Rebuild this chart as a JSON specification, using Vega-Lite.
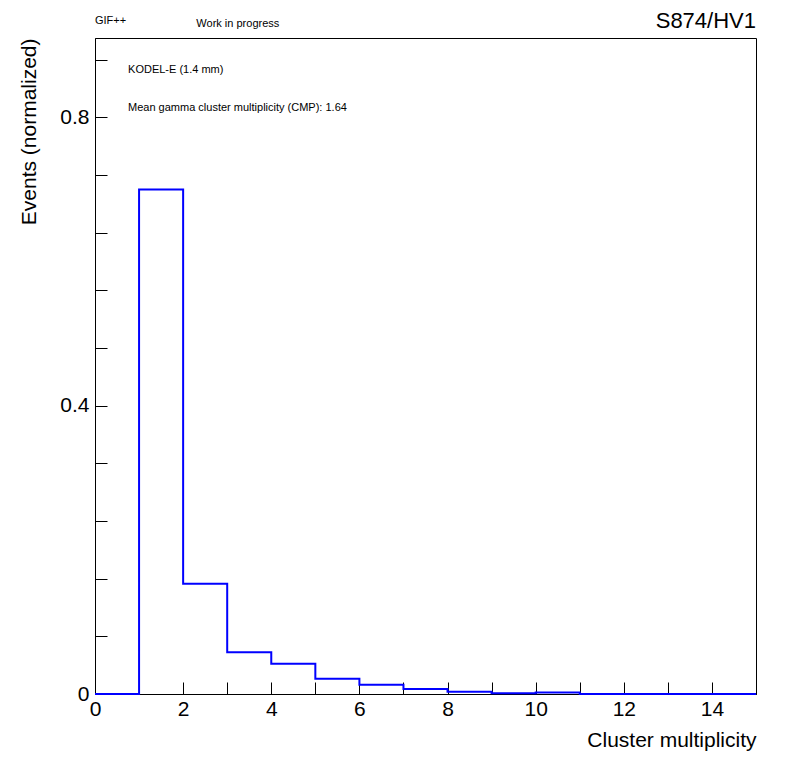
{
  "$schema": "https://vega.github.io/schema/vega-lite/v6.json",
  "width": 661,
  "height": 656,
  "autosize": "none",
  "padding": {"left": 95, "top": 38, "right": 40, "bottom": 78},
  "config": {
    "font": "Liberation Sans",
    "view": {"stroke": "black", "strokeWidth": 1},
    "axis": {"domainColor": "black", "tickColor": "black", "labelColor": "black", "titleColor": "black", "labelFont": "Liberation Sans", "titleFont": "Liberation Sans", "labelFontSize": 21, "titleFontSize": 21, "titleFontWeight": "normal", "grid": false, "labelOverlap": false, "labelFlush": false, "labelBound": false}
  },
  "data": {"values": [
    {"x": 0, "y": 0}, {"x": 1, "y": 0.70}, {"x": 2, "y": 0.153}, {"x": 3, "y": 0.058},
    {"x": 4, "y": 0.042}, {"x": 5, "y": 0.021}, {"x": 6, "y": 0.013}, {"x": 7, "y": 0.007},
    {"x": 8, "y": 0.003}, {"x": 9, "y": 0.001}, {"x": 10, "y": 0.002}, {"x": 11, "y": 0},
    {"x": 15, "y": 0}
  ]},
  "layer": [
    {
      "mark": {"type": "line", "interpolate": "step-after", "color": "#0000ff", "strokeWidth": 2},
      "encoding": {
        "x": {"field": "x", "type": "quantitative", "scale": {"domain": [0, 15], "nice": false},
          "axis": {"values": [0,0.5,1,1.5,2,2.5,3,3.5,4,4.5,5,5.5,6,6.5,7,7.5,8,8.5,9,9.5,10,10.5,11,11.5,12,12.5,13,13.5,14,14.5,15],
            "labelExpr": "datum.value % 2 == 0 && datum.value < 15 ? datum.label : ''",
            "tickSize": -12, "labelPadding": 16,
            "title": "Cluster multiplicity", "titleAnchor": "end", "titlePadding": 10}},
        "y": {"field": "y", "type": "quantitative", "scale": {"domain": [0, 0.91], "nice": false},
          "axis": {"values": [0,0.02,0.04,0.06,0.08,0.1,0.12,0.14,0.16,0.18,0.2,0.22,0.24,0.26,0.28,0.3,0.32,0.34,0.36,0.38,0.4,0.42,0.44,0.46,0.48,0.5,0.52,0.54,0.56,0.58,0.6,0.62,0.64,0.66,0.68,0.7,0.72,0.74,0.76,0.78,0.8,0.82,0.84,0.86,0.88,0.9],
            "labelExpr": "abs(datum.value*10 - round(datum.value*10)) < 0.001 ? (datum.value == 0 ? '0' : format(datum.value, '.1f')) : ''",
            "tickSize": -12, "labelPadding": 18,
            "title": "Events (normalized)", "titleAnchor": "end", "titlePadding": 20}}
      }
    },
    {
      "data": {"values": [
        {"x": 0.75, "y": 0.866, "t": "KODEL-E (1.4 mm)", "w": "bold", "s": 17, "st": "normal"},
        {"x": 0.75, "y": 0.813, "t": "Mean gamma cluster multiplicity (CMP): 1.64", "w": "normal", "s": 17, "st": "normal"},
        {"x": 0, "y": 0.933, "t": "GIF++", "w": "bold", "s": 22, "st": "normal"},
        {"x": 2.3, "y": 0.93, "t": "Work in progress", "w": "normal", "s": 18, "st": "italic"}
      ]},
      "mark": {"type": "text", "align": "left", "baseline": "middle", "clip": false, "color": "black"},
      "encoding": {
        "x": {"field": "x", "type": "quantitative"},
        "y": {"field": "y", "type": "quantitative"},
        "text": {"field": "t"},
        "fontWeight": {"field": "w", "type": "nominal", "scale": null},
        "fontStyle": {"field": "st", "type": "nominal", "scale": null},
        "fontSize": {"field": "s", "type": "quantitative", "scale": null}
      }
    },
    {
      "data": {"values": [{"x": 15, "y": 0.933, "t": "S874/HV1"}]},
      "mark": {"type": "text", "align": "right", "baseline": "middle", "fontSize": 22, "clip": false, "color": "black"},
      "encoding": {
        "x": {"field": "x", "type": "quantitative"},
        "y": {"field": "y", "type": "quantitative"},
        "text": {"field": "t"}
      }
    }
  ]
}
